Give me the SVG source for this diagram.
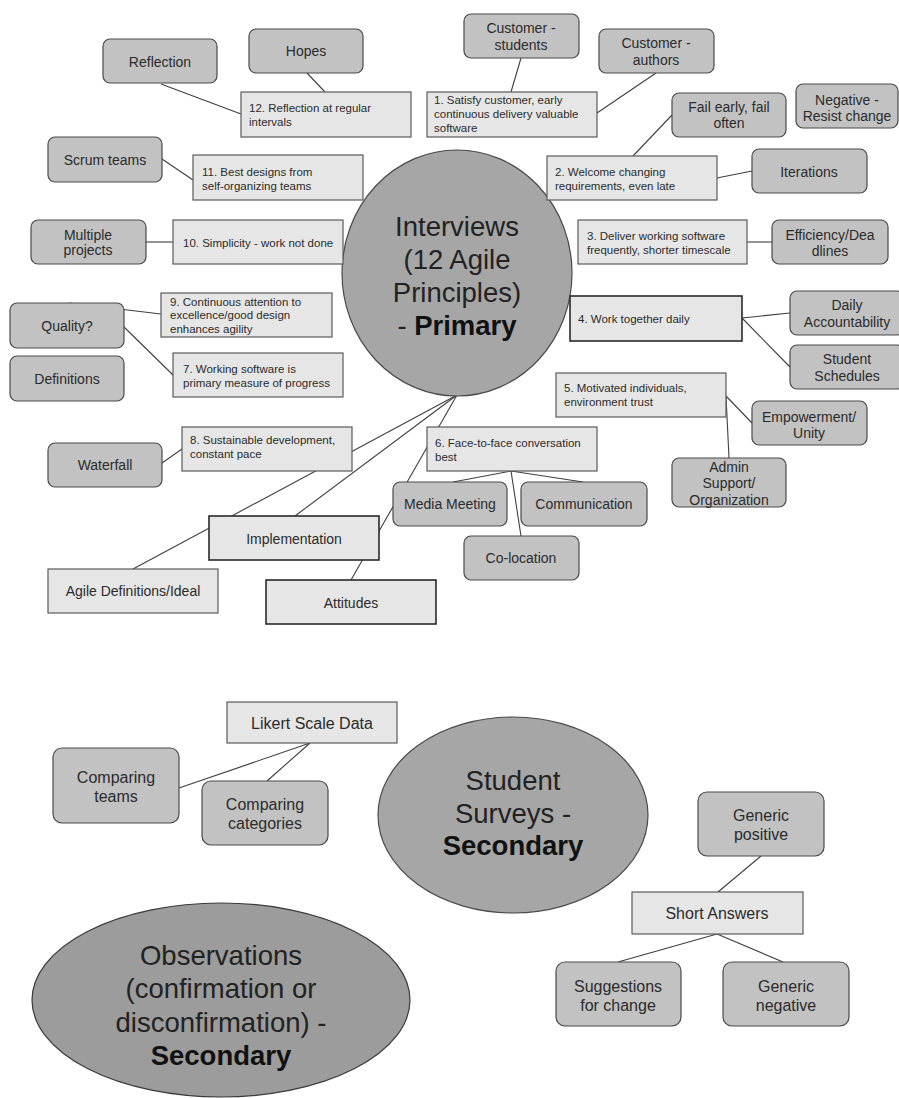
<svg xmlns="http://www.w3.org/2000/svg" width="899" height="1098" viewBox="0 0 899 1098">
<style>
.bg{fill:#ffffff}
.rb{fill:#c2c2c2;stroke:#4a4a4a;stroke-width:1.2}
.lb{fill:#e6e6e6;stroke:#5a5a5a;stroke-width:1.2}
.lbd{fill:#e6e6e6;stroke:#2a2a2a;stroke-width:1.6}
.hub{fill:#a6a6a6;stroke:#4a4a4a;stroke-width:1.2}
.hub2{fill:#9c9c9c;stroke:#3a3a3a;stroke-width:1.2}
.ln{stroke:#3f3f3f;stroke-width:1.1;fill:none}
text{font-family:"Liberation Sans",Arial,sans-serif;fill:#2b2b2b}
.s{font-size:11.5px}
.m{font-size:14px;text-anchor:middle}
.L{font-size:16px;text-anchor:middle}
.h{font-size:27.5px;text-anchor:middle;fill:#222}
.b{font-weight:bold;fill:#111}
</style>
<rect class="bg" x="0" y="0" width="899" height="1098"/>

<g id="connectors">
  <line class="ln" x1="161" y1="84" x2="241" y2="114"/>
  <line class="ln" x1="307" y1="73" x2="325" y2="92"/>
  <line class="ln" x1="521" y1="58" x2="511" y2="92"/>
  <line class="ln" x1="656" y1="73" x2="597" y2="113"/>
  <line class="ln" x1="672" y1="115" x2="633" y2="156"/>
  <line class="ln" x1="717" y1="178" x2="752" y2="171"/>
  <line class="ln" x1="747" y1="242" x2="772" y2="242"/>
  <line class="ln" x1="162" y1="159" x2="193" y2="180"/>
  <line class="ln" x1="146" y1="242" x2="173" y2="242"/>
  <line class="ln" x1="69" y1="303" x2="161" y2="314"/>
  <line class="ln" x1="124" y1="327" x2="173" y2="375"/>
  <line class="ln" x1="162" y1="463" x2="182" y2="449"/>
  <line class="ln" x1="742" y1="318" x2="790" y2="313"/>
  <line class="ln" x1="742" y1="318" x2="790" y2="367"/>
  <line class="ln" x1="726" y1="396" x2="752" y2="423"/>
  <line class="ln" x1="726" y1="396" x2="729" y2="458"/>
  <line class="ln" x1="511" y1="471" x2="453" y2="482"/>
  <line class="ln" x1="511" y1="471" x2="583" y2="482"/>
  <line class="ln" x1="511" y1="471" x2="521" y2="536"/>
  <line class="ln" x1="457" y1="395" x2="133" y2="569"/>
  <line class="ln" x1="457" y1="395" x2="295" y2="516"/>
  <line class="ln" x1="457" y1="395" x2="351" y2="580"/>
  <line class="ln" x1="310" y1="743" x2="179" y2="788"/>
  <line class="ln" x1="310" y1="743" x2="267" y2="781"/>
  <line class="ln" x1="761" y1="856" x2="718" y2="892"/>
  <line class="ln" x1="717" y1="934" x2="618" y2="962"/>
  <line class="ln" x1="717" y1="934" x2="783" y2="962"/>
</g>

<g id="interviews">
  <ellipse class="hub" cx="457" cy="273" rx="115" ry="123"/>
  <text class="h" x="457" y="236">Interviews</text>
  <text class="h" x="457" y="269">(12 Agile</text>
  <text class="h" x="457" y="302">Principles)</text>
  <text class="h" x="457" y="335">- <tspan class="b">Primary</tspan></text>
</g>

<g id="p12"><rect class="lb" x="241" y="92" width="170" height="45"/>
  <text class="s" x="249" y="112">12. Reflection at regular</text><text class="s" x="249" y="126">intervals</text></g>
<g id="reflection"><rect class="rb" x="103" y="39" width="114" height="44" rx="7"/><text class="m" x="160" y="67">Reflection</text></g>
<g id="hopes"><rect class="rb" x="249" y="29" width="114" height="44" rx="7"/><text class="m" x="306" y="56">Hopes</text></g>

<g id="p1"><rect class="lb" x="427" y="92" width="170" height="45"/>
  <text class="s" x="434" y="104">1. Satisfy customer, early</text>
  <text class="s" x="434" y="118">continuous delivery valuable</text>
  <text class="s" x="434" y="132">software</text></g>
<g id="cust-students"><rect class="rb" x="464" y="14" width="115" height="44" rx="7"/>
  <text class="m" x="521" y="33">Customer -</text><text class="m" x="521" y="50">students</text></g>
<g id="cust-authors"><rect class="rb" x="599" y="29" width="115" height="44" rx="7"/>
  <text class="m" x="656" y="48">Customer -</text><text class="m" x="656" y="65">authors</text></g>

<g id="fail"><rect class="rb" x="672" y="93" width="114" height="44" rx="7"/>
  <text class="m" x="729" y="112">Fail early, fail</text><text class="m" x="729" y="128">often</text></g>
<g id="negative"><rect class="rb" x="796" y="84" width="102" height="44" rx="7"/>
  <text class="m" x="847" y="105">Negative -</text><text class="m" x="847" y="121">Resist change</text></g>

<g id="p2"><rect class="lb" x="547" y="156" width="170" height="44"/>
  <text class="s" x="555" y="176">2. Welcome changing</text><text class="s" x="555" y="190">requirements, even late</text></g>
<g id="iterations"><rect class="rb" x="752" y="149" width="115" height="44" rx="7"/><text class="m" x="809" y="177">Iterations</text></g>

<g id="p3"><rect class="lb" x="578" y="220" width="169" height="44"/>
  <text class="s" x="587" y="240">3. Deliver working software</text><text class="s" x="587" y="254">frequently, shorter timescale</text></g>
<g id="efficiency"><rect class="rb" x="772" y="220" width="116" height="44" rx="7"/>
  <text class="m" x="830" y="240">Efficiency/Dea</text><text class="m" x="830" y="256">dlines</text></g>

<g id="p11"><rect class="lb" x="193" y="155" width="170" height="45"/>
  <text class="s" x="202" y="176">11. Best designs from</text><text class="s" x="202" y="190">self-organizing teams</text></g>
<g id="scrum"><rect class="rb" x="48" y="137" width="114" height="45" rx="7"/><text class="m" x="105" y="165">Scrum teams</text></g>

<g id="p10"><rect class="lb" x="173" y="220" width="170" height="44"/>
  <text class="s" x="183" y="247">10. Simplicity - work not done</text></g>
<g id="multiple"><rect class="rb" x="31" y="220" width="115" height="44" rx="7"/>
  <text class="m" x="88" y="240">Multiple</text><text class="m" x="88" y="255">projects</text></g>

<g id="p9"><rect class="lb" x="161" y="293" width="171" height="44"/>
  <text class="s" x="170" y="306">9. Continuous attention to</text>
  <text class="s" x="170" y="319">excellence/good design</text>
  <text class="s" x="170" y="333">enhances agility</text></g>
<g id="quality"><rect class="rb" x="10" y="303" width="114" height="45" rx="7"/><text class="m" x="67" y="331">Quality?</text></g>
<g id="definitions"><rect class="rb" x="10" y="356" width="114" height="45" rx="7"/><text class="m" x="67" y="384">Definitions</text></g>

<g id="p7"><rect class="lb" x="173" y="353" width="170" height="44"/>
  <text class="s" x="183" y="373">7. Working software is</text><text class="s" x="183" y="387">primary measure of progress</text></g>

<g id="p4"><rect class="lbd" x="570" y="296" width="172" height="45"/>
  <text class="s" x="578" y="323">4. Work together daily</text></g>
<g id="daily"><rect class="rb" x="790" y="291" width="114" height="44" rx="7"/>
  <text class="m" x="847" y="310">Daily</text><text class="m" x="847" y="327">Accountability</text></g>
<g id="schedules"><rect class="rb" x="790" y="345" width="114" height="44" rx="7"/>
  <text class="m" x="847" y="364">Student</text><text class="m" x="847" y="381">Schedules</text></g>

<g id="p5"><rect class="lb" x="556" y="373" width="170" height="44"/>
  <text class="s" x="564" y="392">5. Motivated individuals,</text><text class="s" x="564" y="406">environment trust</text></g>
<g id="empower"><rect class="rb" x="752" y="401" width="115" height="44" rx="7"/>
  <text class="m" x="809" y="422">Empowerment/</text><text class="m" x="809" y="438">Unity</text></g>
<g id="admin"><rect class="rb" x="672" y="458" width="114" height="49" rx="7"/>
  <text class="m" x="729" y="472">Admin</text><text class="m" x="729" y="488">Support/</text><text class="m" x="729" y="505">Organization</text></g>

<g id="p8"><rect class="lb" x="182" y="427" width="170" height="44"/>
  <text class="s" x="190" y="444">8. Sustainable development,</text><text class="s" x="190" y="458">constant pace</text></g>
<g id="waterfall"><rect class="rb" x="48" y="443" width="114" height="44" rx="7"/><text class="m" x="105" y="470">Waterfall</text></g>

<g id="p6"><rect class="lb" x="427" y="427" width="170" height="44"/>
  <text class="s" x="435" y="447">6. Face-to-face conversation</text><text class="s" x="435" y="461">best</text></g>
<g id="media"><rect class="rb" x="393" y="482" width="114" height="44" rx="7"/><text class="m" x="450" y="509">Media Meeting</text></g>
<g id="communication"><rect class="rb" x="521" y="482" width="126" height="44" rx="7"/><text class="m" x="584" y="509">Communication</text></g>
<g id="colocation"><rect class="rb" x="464" y="536" width="115" height="44" rx="7"/><text class="m" x="521" y="563">Co-location</text></g>

<g id="implementation"><rect class="lbd" x="209" y="516" width="170" height="44"/><text class="m" x="294" y="544">Implementation</text></g>
<g id="agile-def"><rect class="lb" x="48" y="569" width="170" height="44"/><text class="m" x="133" y="596">Agile Definitions/Ideal</text></g>
<g id="attitudes"><rect class="lbd" x="266" y="580" width="170" height="44"/><text class="m" x="351" y="608">Attitudes</text></g>

<g id="surveys">
  <ellipse class="hub" cx="513" cy="815" rx="135" ry="98"/>
  <text class="h" x="513" y="790">Student</text>
  <text class="h" x="513" y="823">Surveys -</text>
  <text class="h b" x="513" y="855">Secondary</text>
</g>
<g id="likert"><rect class="lb" x="227" y="702" width="170" height="41"/><text class="L" x="312" y="729">Likert Scale Data</text></g>
<g id="comp-teams"><rect class="rb" x="53" y="748" width="126" height="75" rx="9"/>
  <text class="L" x="116" y="783">Comparing</text><text class="L" x="116" y="802">teams</text></g>
<g id="comp-cat"><rect class="rb" x="202" y="781" width="126" height="64" rx="9"/>
  <text class="L" x="265" y="810">Comparing</text><text class="L" x="265" y="829">categories</text></g>

<g id="generic-pos"><rect class="rb" x="698" y="792" width="126" height="64" rx="9"/>
  <text class="L" x="761" y="821">Generic</text><text class="L" x="761" y="840">positive</text></g>
<g id="short"><rect class="lb" x="632" y="892" width="171" height="42"/><text class="L" x="717" y="919">Short Answers</text></g>
<g id="suggestions"><rect class="rb" x="556" y="962" width="125" height="64" rx="9"/>
  <text class="L" x="618" y="992">Suggestions</text><text class="L" x="618" y="1011">for change</text></g>
<g id="generic-neg"><rect class="rb" x="723" y="962" width="126" height="64" rx="9"/>
  <text class="L" x="786" y="992">Generic</text><text class="L" x="786" y="1011">negative</text></g>

<g id="observations">
  <ellipse class="hub2" cx="221" cy="1000" rx="189" ry="97"/>
  <text class="h" x="221" y="965">Observations</text>
  <text class="h" x="221" y="998">(confirmation or</text>
  <text class="h" x="221" y="1032">disconfirmation) -</text>
  <text class="h b" x="221" y="1065">Secondary</text>
</g>
</svg>
